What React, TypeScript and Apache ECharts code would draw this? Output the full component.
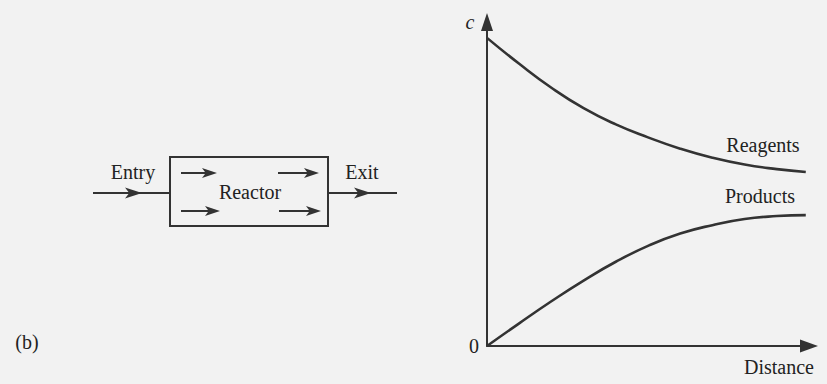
import React, { useEffect, useRef } from "react";
import * as echarts from "echarts";

// Distance along the reactor (arbitrary units, 0 = entry)
const distance = [0, 1, 2, 3, 4, 5, 6, 7, 8, 9, 9.9];
// Concentration of reagents along the reactor
const reagents = [9.51, 8.71, 7.97, 7.34, 6.84, 6.44, 6.09, 5.81, 5.6, 5.46, 5.37];
// Concentration of products along the reactor
const products = [0, 0.7, 1.38, 2.02, 2.6, 3.09, 3.47, 3.73, 3.92, 4.01, 4.04];

const seriesNames = ["Reagents", "Products"];
const axisNames = { x: "Distance", y: "c" };

const INK = "#333333";
const FONT = "'Liberation Serif', 'DejaVu Serif', serif";

const pairs = (ys: number[]) => distance.map((d, i) => [d, ys[i]]);

// Flow arrowhead pointing right, tip at (x, y)
const head = (x: number, y: number, len = 15, half = 5) => ({
  type: "polygon",
  shape: { points: [[x, y], [x - len, y - half], [x - len * 0.75, y], [x - len, y + half]] },
  style: { fill: INK },
});

const flowArrow = (x1: number, x2: number, y: number) => [
  { type: "line", shape: { x1, y1: y, x2: x2 - 6, y2: y }, style: { stroke: INK, lineWidth: 2 } },
  head(x2, y, 15, 5),
];

const label = (text: string, x: number, y: number, extra: any = {}) => ({
  type: "text",
  x,
  y,
  style: {
    text,
    fill: "#222",
    font: `20px ${FONT}`,
    align: "center",
    verticalAlign: "middle",
    ...extra,
  },
});

export default function App() {
  const ref = useRef<HTMLDivElement>(null);

  useEffect(() => {
    if (!ref.current) return;
    const chart = echarts.init(ref.current, null, { renderer: "svg" });
    chart.setOption({
      animation: false,
      backgroundColor: "#f2f2f2",
      grid: { left: 487, right: 18, top: 22, bottom: 38 },
      xAxis: {
        type: "value",
        min: 0,
        max: 10,
        axisLine: {
          show: true,
          symbol: ["none", "triangle"],
          symbolSize: [13, 18],
          lineStyle: { color: INK, width: 2 },
        },
        axisTick: { show: false },
        axisLabel: { show: false },
        splitLine: { show: false },
      },
      yAxis: {
        type: "value",
        min: 0,
        max: 10,
        interval: 10,
        axisLine: {
          show: true,
          symbol: ["none", "triangle"],
          symbolSize: [12, 18],
          lineStyle: { color: INK, width: 2 },
        },
        axisTick: { show: false },
        axisLabel: {
          show: true,
          margin: 8,
          formatter: (v: number) => (v === 0 ? "0" : ""),
          fontFamily: FONT,
          fontSize: 20,
          color: "#222",
          padding: [0, 0, 6, 0],
        },
        splitLine: { show: false },
      },
      series: [
        {
          name: seriesNames[0],
          type: "line",
          data: pairs(reagents),
          smooth: true,
          showSymbol: false,
          lineStyle: { color: INK, width: 2.6 },
        },
        {
          name: seriesNames[1],
          type: "line",
          data: pairs(products),
          smooth: true,
          showSymbol: false,
          lineStyle: { color: INK, width: 2.6 },
        },
      ],
      graphic: [
        // axis names and curve labels
        label(axisNames.y, 470, 22, { font: `italic 20px ${FONT}` }),
        label(axisNames.x, 779, 367),
        label(seriesNames[0], 763, 145),
        label(seriesNames[1], 760, 196),
        label("(b)", 27, 342),
        // reactor schematic
        {
          type: "rect",
          shape: { x: 170, y: 157, width: 158, height: 69 },
          style: { fill: "none", stroke: INK, lineWidth: 2 },
        },
        { type: "line", shape: { x1: 93, y1: 193, x2: 170, y2: 193 }, style: { stroke: INK, lineWidth: 2 } },
        head(142, 193, 17, 5.5),
        { type: "line", shape: { x1: 328, y1: 193, x2: 397, y2: 193 }, style: { stroke: INK, lineWidth: 2 } },
        head(371, 193, 17, 5.5),
        ...flowArrow(181, 217, 173),
        ...flowArrow(278, 319, 173),
        ...flowArrow(181, 220, 211),
        ...flowArrow(279, 321, 211),
        label("Entry", 133, 172),
        label("Exit", 362, 172),
        label("Reactor", 250, 192),
      ],
    });
    return () => chart.dispose();
  }, []);

  return (
    <div
      ref={ref}
      style={{ position: "fixed", left: 0, top: 0, width: 827, height: 384 }}
    />
  );
}
